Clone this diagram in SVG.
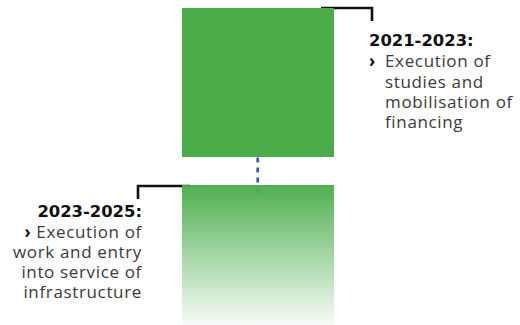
<svg xmlns="http://www.w3.org/2000/svg" width="520" height="325" viewBox="0 0 520 325">
<defs>
<linearGradient id="fade" x1="0" y1="0" x2="0" y2="1">
<stop offset="0" stop-color="#4aad4a" stop-opacity="0.97"/>
<stop offset="1" stop-color="#4aad4a" stop-opacity="0.04"/>
</linearGradient>
<style>
.title{font-family:"DejaVu Sans","Noto Sans",sans-serif;font-weight:700;font-size:16.4px;fill:#111}
.body{font-family:"Open Sans","Noto Sans",sans-serif;font-weight:400;font-size:17px;fill:#3a3a3a;letter-spacing:0.65px}
.chev{font-weight:700;fill:#111}
.lead{stroke:#111;stroke-width:2.6;fill:none}
</style>
</defs>
<rect width="520" height="325" fill="#fff"/>
<g id="connectors">
<line x1="257.7" y1="157.5" x2="257.7" y2="193" stroke="#2e5fa8" stroke-width="2.7" stroke-dasharray="5 5"/>
<path class="lead" d="M321,8 H372 V21"/>
<path class="lead" d="M190,186 H138 V199"/>
</g>
<g id="phase1">
<rect x="182" y="8" width="152" height="149" fill="#4aad4a"/>
<text class="title" x="369" y="46">2021-2023:</text>
<text class="body"><tspan class="chev" x="369" y="67">›</tspan><tspan x="385" y="67">Execution of</tspan><tspan x="385" y="88">studies and</tspan><tspan x="385" y="108">mobilisation of</tspan><tspan x="385" y="128">financing</tspan></text>
</g>
<g id="phase2">
<rect x="182" y="185" width="152" height="140" fill="url(#fade)"/>
<text class="title" x="142" y="217" text-anchor="end">2023-2025:</text>
<text class="body" text-anchor="end"><tspan x="142" y="238"><tspan class="chev">›</tspan> Execution of</tspan><tspan x="142" y="258">work and entry</tspan><tspan x="142" y="278">into service of</tspan><tspan x="142" y="298">infrastructure</tspan></text>
</g>
</svg>
